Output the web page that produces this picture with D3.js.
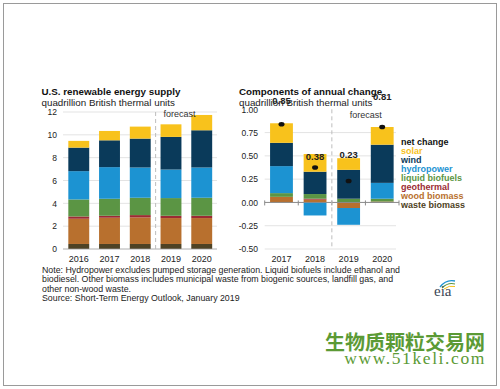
<!DOCTYPE html>
<html>
<head>
<meta charset="utf-8">
<script src="https://cdnjs.cloudflare.com/ajax/libs/d3/7.8.5/d3.min.js"></script>
<style>
  body { margin: 0; background: #fff; }
  svg text { font-family: "Liberation Sans", Arial, sans-serif; }
</style>
</head>
<body>
<div id="chart"></div>
<script>
// ---- data ----
const supplyYears = ["2016", "2017", "2018", "2019", "2020"];
const supplyWaste = [0.44, 0.44, 0.44, 0.44, 0.44];
const supplyWood = [2.21, 2.30, 2.33, 2.27, 2.27];
const supplyGeo = [0.20, 0.17, 0.20, 0.20, 0.20];
const supplyBiofuel = [1.49, 1.49, 1.52, 1.55, 1.58];
const supplyHydro = [2.48, 2.77, 2.65, 2.50, 2.65];
const supplyWind = [2.06, 2.35, 2.53, 2.86, 3.26];
const supplySolar = [0.59, 0.82, 1.05, 1.10, 1.34];
const supplyTicks = [0, 2, 4, 6, 8, 10, 12];

const changeYears = ["2017", "2018", "2019", "2020"];
const changeWaste = [0.0, 0.0, 0.0, 0.005];
const changeWood = [0.06, 0.03, -0.06, 0.005];
const changeGeo = [0.0, 0.01, 0.0, 0.0];
const changeBiofuel = [0.04, 0.05, 0.04, 0.03];
const changeHydro = [0.29, -0.14, -0.18, 0.17];
const changeWind = [0.25, 0.24, 0.31, 0.41];
const changeSolar = [0.21, 0.19, 0.125, 0.19];
const netChange = [0.84, 0.375, 0.23, 0.81];
const netLabels = ["0.85", "0.38", "0.23", "0.81"];
const netLabelAt = [1.055, 0.453, 0.48, 1.10]; // where the label sits, in quadrillion Btu
const changeTicks = [1.0, 0.75, 0.5, 0.25, 0, -0.25, -0.5];

const seriesKeys = ["waste", "wood", "geo", "biofuel", "hydro", "wind", "solar"];
const seriesNames = ["waste biomass", "wood biomass", "geothermal", "liquid biofuels", "hydropower", "wind", "solar"];
const seriesColors = ["#4e4224", "#b8702e", "#9c2b33", "#5b9544", "#1c93d2", "#0a3a5a", "#f8c21c"];

const noteLines = [
  "Note: Hydropower excludes pumped storage generation.  Liquid biofuels include ethanol and",
  "biodiesel.  Other biomass includes municipal waste from biogenic sources, landfill gas, and",
  "other non-wood waste.",
  "Source: Short-Term Energy Outlook, January 2019"
];

// build row tables for d3.stack
const supplyRows = supplyYears.map((y, i) => ({
  year: y, waste: supplyWaste[i], wood: supplyWood[i], geo: supplyGeo[i], biofuel: supplyBiofuel[i],
  hydro: supplyHydro[i], wind: supplyWind[i], solar: supplySolar[i]
}));
const changeRows = changeYears.map((y, i) => ({
  year: y, waste: changeWaste[i], wood: changeWood[i], geo: changeGeo[i], biofuel: changeBiofuel[i],
  hydro: changeHydro[i], wind: changeWind[i], solar: changeSolar[i], net: netChange[i],
  label: netLabels[i], labelAt: netLabelAt[i]
}));

const W = 500, H = 389;
const svg = d3.select("#chart").append("svg")
  .attr("width", W).attr("height", H);

// outer frame
svg.append("rect")
  .attr("x", 3.5).attr("y", 3.5)
  .attr("width", 493).attr("height", 382)
  .attr("fill", "#fff").attr("stroke", "#9a9a9a");

const color = d3.scaleOrdinal().domain(seriesKeys).range(seriesColors);

// ---------- left: supply ----------
let xL = d3.scaleBand().domain(supplyYears).range([63.4, 217.1]).paddingInner(0.32).paddingOuter(0.16);
let yL = d3.scaleLinear().domain([0, 12]).range([249, 112]);

let left = svg.append("g");

left.append("text").attr("x", 41.5).attr("y", 94.5)
  .attr("font-size", "9.8px").attr("font-weight", "bold").attr("fill", "#111")
  .text("U.S. renewable energy supply");
left.append("text").attr("x", 41.5).attr("y", 105.5)
  .attr("font-size", "9.8px").attr("fill", "#222")
  .text("quadrillion British thermal units");

//gridlines
left.selectAll(".gridL")
  .data(supplyTicks.filter(d => d !== 0))
  .enter().append("line")
    .attr("x1", 63).attr("x2", 217)
    .attr("y1", d => yL(d)).attr("y2", d => yL(d))
    .attr("stroke", "#dcdcdc").attr("stroke-width", 0.8);

left.append("g")
  .attr("transform", "translate(60,0)")
  .call(d3.axisLeft(yL).tickValues(supplyTicks).tickSize(0).tickPadding(3))
  .call(g => g.select(".domain").remove())
  .selectAll("text")
    .attr("font-size", "8.5px").attr("fill", "#222");

let stackL = d3.stack().keys(seriesKeys)(supplyRows);

left.selectAll(".layerL")
  .data(stackL)
  .enter().append("g")
    .attr("fill", d => color(d.key))
  .selectAll("rect")
  .data(d => d)
  .enter().append("rect")
    .attr("x", d => xL(d.data.year))
    .attr("width", xL.bandwidth())
    .attr("y", d => yL(d[1]))
    .attr("height", d => yL(d[0]) - yL(d[1]));

left.append("line")
  .attr("x1", 63).attr("x2", 217)
  .attr("y1", yL(0)).attr("y2", yL(0))
  .attr("stroke", "#999").attr("stroke-width", 0.8);

left.append("g")
  .attr("transform", "translate(0," + yL(0) + ")")
  .call(d3.axisBottom(xL).tickSize(0).tickPadding(7))
  .call(g => g.select(".domain").remove())
  .selectAll("text")
    .attr("font-size", "9px").attr("fill", "#222");

//forecast divider
let divL = (xL("2018") + xL.bandwidth() + xL("2019")) / 2;
left.append("line")
  .attr("x1", divL).attr("x2", divL)
  .attr("y1", yL(12)).attr("y2", yL(0))
  .attr("stroke", "#bdbdbd").attr("stroke-dasharray", "4,3");
left.append("text").attr("x", divL + 8).attr("y", yL(11.55))
  .attr("font-size", "9px").attr("fill", "#333")
  .text("forecast");

// ---------- right: components of change ----------
let xR = d3.scaleBand().domain(changeYears).range([264.7, 399]).paddingInner(0.32).paddingOuter(0.16);
let yR = d3.scaleLinear().domain([-0.5, 1]).range([249, 109.3]);

let right = svg.append("g");

right.append("text").attr("x", 239).attr("y", 94.5)
  .attr("font-size", "9.8px").attr("font-weight", "bold").attr("fill", "#111")
  .text("Components of annual change");
right.append("text").attr("x", 239).attr("y", 105.5)
  .attr("font-size", "9.8px").attr("fill", "#222")
  .text("quadrillion British thermal units");

right.selectAll(".gridR")
  .data(changeTicks.filter(d => d !== 0 && d !== 1))
  .enter().append("line")
    .attr("x1", 264.7).attr("x2", 396)
    .attr("y1", d => yR(d)).attr("y2", d => yR(d))
    .attr("stroke", "#dcdcdc").attr("stroke-width", 0.8);

right.append("g")
  .attr("transform", "translate(261,0)")
  .call(d3.axisLeft(yR).tickValues(changeTicks).tickFormat(d3.format(".2f")).tickSize(0).tickPadding(3))
  .call(g => g.select(".domain").remove())
  .selectAll("text")
    .attr("font-size", "8.5px").attr("fill", "#222")
    .text(d => d3.format(".2f")(d).replace("−", "-"));

let stackR = d3.stack().keys(seriesKeys).offset(d3.stackOffsetDiverging)(changeRows);

right.selectAll(".layerR")
  .data(stackR)
  .enter().append("g")
    .attr("fill", d => color(d.key))
  .selectAll("rect")
  .data(d => d)
  .enter().append("rect")
    .attr("x", d => xR(d.data.year))
    .attr("width", xR.bandwidth())
    .attr("y", d => yR(d[1]))
    .attr("height", d => Math.max(0, yR(d[0]) - yR(d[1])));

//zero line with ticks at band edges
right.append("line")
  .attr("x1", 264.7).attr("x2", 399)
  .attr("y1", yR(0)).attr("y2", yR(0))
  .attr("stroke", "#8a8a8a").attr("stroke-width", 1);
let edges = changeYears.map(d => xR(d) - xR.step() * xR.paddingInner() / 2).concat([399]);
right.selectAll(".edgeTick")
  .data(edges)
  .enter().append("line")
    .attr("x1", d => d).attr("x2", d => d)
    .attr("y1", yR(0) - 2).attr("y2", yR(0) + 3)
    .attr("stroke", "#8a8a8a");

right.append("g")
  .attr("transform", "translate(0," + yR(-0.5) + ")")
  .call(d3.axisBottom(xR).tickSize(0).tickPadding(7))
  .call(g => g.select(".domain").remove())
  .selectAll("text")
    .attr("font-size", "9px").attr("fill", "#222");

let divR = (xR("2018") + xR.bandwidth() + xR("2019")) / 2;
right.append("line")
  .attr("x1", divR).attr("x2", divR)
  .attr("y1", yR(1)).attr("y2", yR(-0.5))
  .attr("stroke", "#bdbdbd").attr("stroke-dasharray", "4,3");
right.append("text").attr("x", divR + 18).attr("y", yR(0.905))
  .attr("font-size", "9px").attr("fill", "#333")
  .text("forecast");

//net change markers
right.selectAll(".netDot")
  .data(changeRows)
  .enter().append("ellipse")
    .attr("cx", d => xR(d.year) + xR.bandwidth() / 2)
    .attr("cy", d => yR(d.net))
    .attr("rx", 3).attr("ry", 2.3)
    .attr("fill", "#111");

right.selectAll(".netLabel")
  .data(changeRows)
  .enter().append("text")
    .attr("x", d => xR(d.year) + xR.bandwidth() / 2)
    .attr("y", d => yR(d.labelAt))
    .attr("text-anchor", "middle")
    .attr("font-size", "9.5px").attr("font-weight", "bold").attr("fill", "#222")
    .text(d => d.label);

//legend
let legendItems = [{name: "net change", fill: "#111"}].concat(
  seriesKeys.slice().reverse().map((k, i) => ({name: seriesNames[seriesKeys.length - 1 - i], fill: color(k)}))
);
svg.append("g").selectAll("text")
  .data(legendItems)
  .enter().append("text")
    .attr("x", 401)
    .attr("y", (d, i) => 145 + i * 9)
    .attr("font-size", "9px").attr("font-weight", "bold")
    .attr("fill", d => d.fill)
    .text(d => d.name);

// ---------- notes ----------
svg.append("g").selectAll("text")
  .data(noteLines)
  .enter().append("text")
    .attr("x", 42)
    .attr("y", (d, i) => 273 + i * 9.4)
    .attr("font-size", "8.8px").attr("fill", "#222")
    .text(d => d);

// eia logo
let logo = svg.append("g");
logo.append("path").attr("d", "M440,287 Q446,279 455,281").attr("fill", "none").attr("stroke", "#1c93d2").attr("stroke-width", 1.3);
logo.append("path").attr("d", "M442,288 Q448,282 455,284").attr("fill", "none").attr("stroke", "#5b9544").attr("stroke-width", 1.1);
logo.append("path").attr("d", "M444,289 Q449,285 455,286.5").attr("fill", "none").attr("stroke", "#f8c21c").attr("stroke-width", 1);
logo.append("text").attr("x", 434).attr("y", 296)
  .style("font-family", "'Liberation Serif', serif")
  .attr("font-size", "15px").attr("fill", "#3b4656")
  .text("eia");

// watermark
svg.append("text").attr("x", 485).attr("y", 350)
  .attr("text-anchor", "end")
  .style("font-family", "'Noto Sans CJK SC', sans-serif")
  .attr("font-size", "20px").attr("font-weight", "bold").attr("fill", "#5b9a35")
  .text("生物质颗粒交易网");
svg.append("text").attr("x", 486).attr("y", 364)
  .attr("text-anchor", "end")
  .style("font-family", "'Liberation Serif', serif")
  .attr("font-size", "17.5px").attr("letter-spacing", "1.6px").attr("fill", "#5b9a35")
  .text("www.51keli.com");
</script>
</body>
</html>
